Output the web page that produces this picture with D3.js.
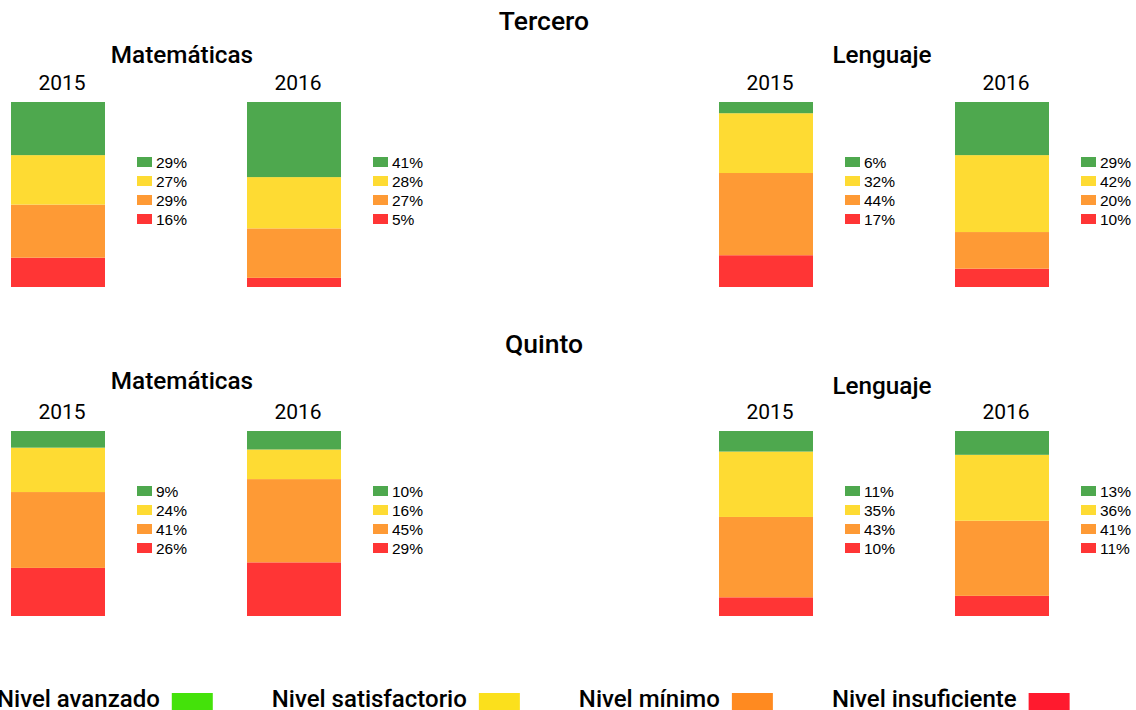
<!DOCTYPE html>
<html><head><meta charset="utf-8">
<script src="https://cdn.jsdelivr.net/npm/d3@7"></script>
<style>body{margin:0;background:#fff;overflow:hidden} svg{display:block}</style>
</head><body>
<svg id="c" width="1136" height="710"></svg>
<script>
const levels = ["Nivel avanzado", "Nivel satisfactorio", "Nivel mínimo", "Nivel insuficiente"];
const grades = ["Tercero", "Quinto"];
const subjects = ["Matemáticas", "Lenguaje"];
const years = ["2015", "2016"];
// values per level (avanzado, satisfactorio, mínimo, insuficiente) in %
const terceroMat2015 = [29, 27, 29, 16];
const terceroMat2016 = [41, 28, 27, 5];
const terceroLen2015 = [6, 32, 44, 17];
const terceroLen2016 = [29, 42, 20, 10];
const quintoMat2015 = [9, 24, 41, 26];
const quintoMat2016 = [10, 16, 45, 29];
const quintoLen2015 = [11, 35, 43, 10];
const quintoLen2016 = [13, 36, 41, 11];

const barColors = ["#4ea84e", "#fedb33", "#fe9a35", "#ff3535"];
const legendColors = ["#44e20a", "#fbe01c", "#ff8a20", "#ff1a2e"];

const data = {
  "Tercero": {"Matemáticas": [terceroMat2015, terceroMat2016], "Lenguaje": [terceroLen2015, terceroLen2016]},
  "Quinto": {"Matemáticas": [quintoMat2015, quintoMat2016], "Lenguaje": [quintoLen2015, quintoLen2016]}
};

const svg = d3.select("#c");
const titleFont = "Roboto, 'Noto Sans', sans-serif";
const labelFont = "'Liberation Sans', Arial, sans-serif";

// layout
const gradeLayout = {
  "Tercero": {title: 30, subj: {"Matemáticas": 63, "Lenguaje": 63}, year: 90, barTop: 102},
  "Quinto": {title: 353, subj: {"Matemáticas": 389, "Lenguaje": 394}, year: 419, barTop: 431}
};
const subjX = d3.scaleOrdinal().domain(subjects).range([11, 719]);
const subjTitleX = d3.scaleOrdinal().domain(subjects).range([182, 882]);
const yearOffset = d3.scaleOrdinal().domain(years).range([0, 236]);
const barW = 94, barH = 185;
const color = d3.scaleOrdinal().domain(levels).range(barColors);
const legColor = d3.scaleOrdinal().domain(levels).range(legendColors);
const stackKeys = levels.slice().reverse();

grades.forEach(g => {
  const L = gradeLayout[g];
  svg.append("text").attr("x", 544).attr("y", L.title)
    .attr("text-anchor", "middle").attr("font-family", titleFont).attr("font-weight", 500)
    .attr("font-size", 26.5).attr("fill", "#000").text(g);
  subjects.forEach(s => {
    svg.append("text").attr("x", subjTitleX(s)).attr("y", L.subj[s])
      .attr("text-anchor", "middle").attr("font-family", titleFont).attr("font-weight", 500)
      .attr("font-size", 24.3).attr("fill", "#000").text(s);
    years.forEach((yr, yi) => {
      const vals = data[g][s][yi];
      const x0 = subjX(s) + yearOffset(yr);
      const row = {};
      levels.forEach((l, i) => row[l] = vals[i]);
      const total = d3.sum(vals);
      const y = d3.scaleLinear().domain([0, total]).range([L.barTop + barH, L.barTop]);
      const series = d3.stack().keys(stackKeys)([row]);
      const gp = svg.append("g");
      gp.append("text").attr("x", x0 + barW / 2 + 4).attr("y", L.year)
        .attr("text-anchor", "middle").attr("font-family", titleFont)
        .attr("font-size", 21).attr("fill", "#000").text(yr);
      gp.selectAll("rect.seg").data(series).join("rect").attr("class", "seg")
        .attr("x", x0).attr("width", barW)
        .attr("y", d => y(d[0][1])).attr("height", d => y(d[0][0]) - y(d[0][1]))
        .attr("fill", d => color(d.key));
      const lg = gp.append("g").attr("transform", `translate(${x0 + 126},${L.barTop + 55})`);
      const items = lg.selectAll("g").data(levels).join("g")
        .attr("transform", (d, i) => `translate(0,${i * 19})`);
      items.append("rect").attr("width", 15).attr("height", 10).attr("fill", d => color(d));
      items.append("text").attr("x", 19).attr("y", 10.5)
        .attr("font-family", labelFont).attr("font-size", 15.5).attr("fill", "#000")
        .text((d, i) => vals[i] + "%");
    });
  });
});

// bottom legend (text then swatch)
const leg = svg.append("g");
let cursor = -3;
levels.forEach(l => {
  const t = leg.append("text").attr("x", cursor).attr("y", 707)
    .attr("font-family", titleFont).attr("font-weight", 500).attr("font-size", 24)
    .attr("fill", "#000").text(l);
  const w = t.node().getComputedTextLength();
  leg.append("rect").attr("x", cursor + w + 12).attr("y", 693).attr("width", 41).attr("height", 17)
    .attr("fill", legColor(l));
  cursor += w + 12 + 41 + 59;
});
</script>
</body></html>
